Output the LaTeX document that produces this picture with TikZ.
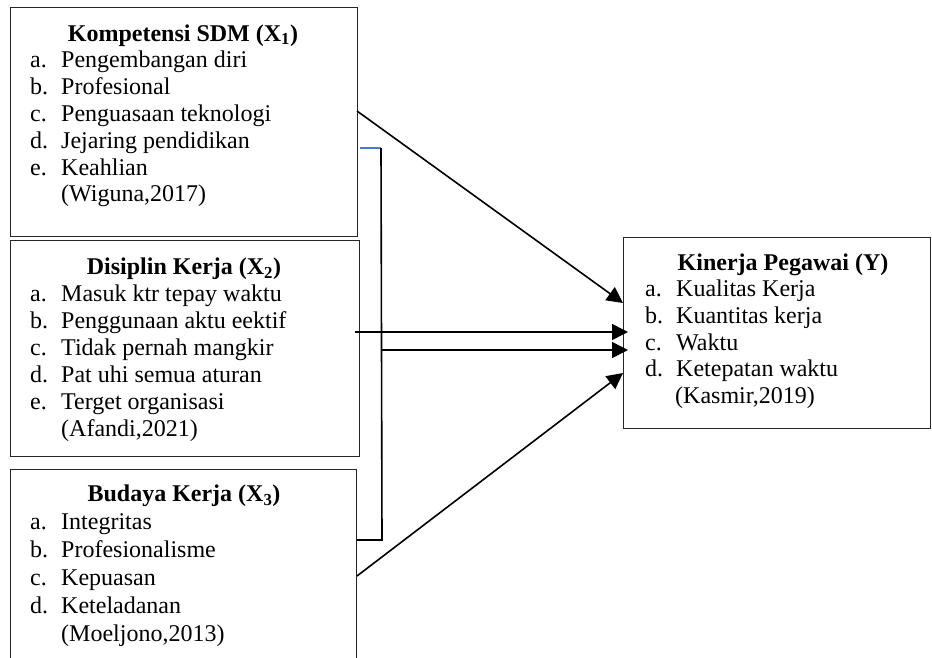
\documentclass[tikz,border=0pt]{standalone}
\usepackage{fontspec}
\setmainfont{Liberation Serif}
\usetikzlibrary{arrows.meta}
\newcommand\myitem[5]{\node[lbl] (#1a) at (#2,#3) {#4}; \node[lbl] (#1b) at (#2+31,#3) {#5};}
\begin{document}
\begin{tikzpicture}[x=1pt,y=-1pt,
  box/.style={draw=black!85, line width=1.4pt, rectangle, anchor=north west, inner sep=0pt},
  lbl/.style={anchor=base west, inner sep=0pt, font=\fontsize{24}{28}\selectfont},
  ttl/.style={anchor=base, inner sep=0pt, font=\fontsize{24}{28}\selectfont\bfseries},
  arr/.style={line width=1.6pt, -{Triangle[length=16pt,width=16pt]}},
  ln/.style={line width=1.6pt}]
\useasboundingbox (0,0) rectangle (932,657);
% boxes
\node[box, minimum width=347pt, minimum height=229pt] (x1) at (10,7) {};
\node[box, minimum width=349pt, minimum height=216pt] (x2) at (10,240) {};
\node[box, minimum width=346pt, minimum height=210pt] (x3) at (10,469) {};
\node[box, minimum width=307pt, minimum height=191pt] (y) at (623,237) {};
% X1
\node[ttl] (t1) at (183,41) {Kompetensi SDM (X\textsubscript{1})};
\myitem{p1}{30}{67.8}{a.}{Pengembangan diri}
\myitem{p2}{30}{94.6}{b.}{Profesional}
\myitem{p3}{30}{121.4}{c.}{Penguasaan teknologi}
\myitem{p4}{30}{148.2}{d.}{Jejaring pendidikan}
\myitem{p5}{30}{175}{e.}{Keahlian}
\node[lbl] (r1) at (61,201.8) {(Wiguna,2017)};
% X2
\node[ttl] (t2) at (184,274.3) {Disiplin Kerja (X\textsubscript{2})};
\myitem{q1}{30}{301.4}{a.}{Masuk ktr tepay waktu}
\myitem{q2}{30}{328.5}{b.}{Penggunaan aktu eektif}
\myitem{q3}{30}{355.5}{c.}{Tidak pernah mangkir}
\myitem{q4}{30}{382.6}{d.}{Pat uhi semua aturan}
\myitem{q5}{30}{409.7}{e.}{Terget organisasi}
\node[lbl] (r2) at (61,436.7) {(Afandi,2021)};
% X3
\node[ttl] (t3) at (184,501.7) {Budaya Kerja (X\textsubscript{3})};
\myitem{s1}{30}{529.7}{a.}{Integritas}
\myitem{s2}{30}{557.7}{b.}{Profesionalisme}
\myitem{s3}{30}{585.7}{c.}{Kepuasan}
\myitem{s4}{30}{613.7}{d.}{Keteladanan}
\node[lbl] (r3) at (61,641.7) {(Moeljono,2013)};
% Y
\node[ttl] (ty) at (783,270) {Kinerja Pegawai (Y)};
\myitem{u1}{645}{296.7}{a.}{Kualitas Kerja}
\myitem{u2}{645}{323.4}{b.}{Kuantitas kerja}
\myitem{u3}{645}{350}{c.}{Waktu}
\myitem{u4}{645}{376.7}{d.}{Ketepatan waktu}
\node[lbl] (ry) at (675,403.3) {(Kasmir,2019)};
% connector points
\coordinate (a1s) at (357,111);
\coordinate (a1e) at (623,303);
\coordinate (a2s) at (355,332);
\coordinate (a2e) at (628,332);
\coordinate (a3s) at (382,350);
\coordinate (a3e) at (628,350);
\coordinate (a4s) at (357,576);
\coordinate (a4e) at (623,373);
\coordinate (bt) at (381,148);
\coordinate (bb) at (382,540);
\coordinate (blueL) at (360,148);
\coordinate (blackL) at (357,540);
% bracket
\draw[line width=1.4pt, draw={rgb,255:red,70;green,125;blue,195}] (blueL) -- (bt);
\draw[ln] (bt) -- (bb) -- (blackL);
% arrows
\draw[arr] (a1s) -- (a1e);
\draw[arr] (a2s) -- (a2e);
\draw[arr] (a3s) -- (a3e);
\draw[arr] (a4s) -- (a4e);
\end{tikzpicture}
\end{document}
